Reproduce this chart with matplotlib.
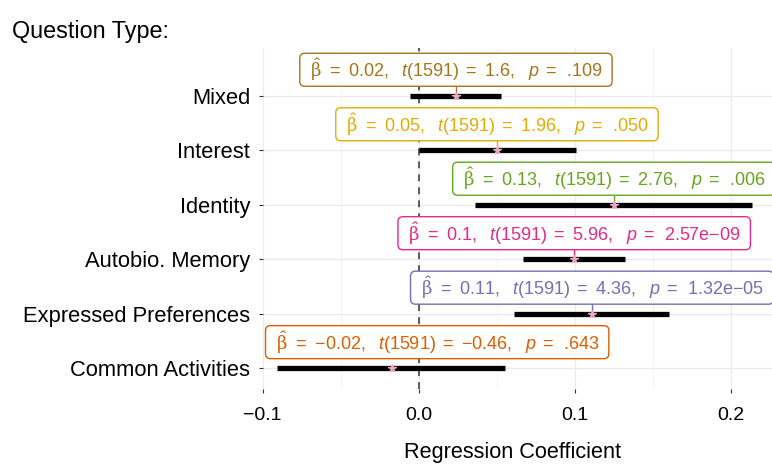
import matplotlib
matplotlib.use("Agg")
import matplotlib.pyplot as plt
from matplotlib import font_manager as fm
from matplotlib.patches import FancyBboxPatch
from matplotlib.transforms import IdentityTransform
import numpy as np

# ---------------- data ----------------
categories = ["Common Activities", "Expressed Preferences", "Autobio. Memory",
              "Identity", "Interest", "Mixed"]
estimates = [-0.0171, 0.1112, 0.0998, 0.1254, 0.0503, 0.0240]
ci_low = [-0.0904, 0.0613, 0.0667, 0.0363, 0.0000, -0.0053]
ci_high = [0.0556, 0.1607, 0.1323, 0.2139, 0.1009, 0.0530]
beta_text = ["−0.02", "0.11", "0.1", "0.13", "0.05", "0.02"]
t_text = ["−0.46", "4.36", "5.96", "2.76", "1.96", "1.6"]
p_text = [".643", "1.32e−05", "2.57e−09", ".006", ".050", ".109"]
df_resid = "1591"
label_colors = ["#D95F02", "#7570B3", "#E7298A", "#66A61E", "#E6AB02", "#A6761D"]
x_ticks = [-0.1, 0.0, 0.1, 0.2]
x_tick_labels = ["−0.1", "0.0", "0.1", "0.2"]

# ---------------- fonts ----------------
names = {f.name for f in fm.fontManager.ttflist}
if "Liberation Sans Narrow" in names:
    NARROW, NSCALE = "Liberation Sans Narrow", 1.0
else:
    NARROW, NSCALE = "Liberation Sans", 0.84
REG = "Liberation Sans"

plt.rcParams["mathtext.fontset"] = "custom"
plt.rcParams["mathtext.rm"] = REG
plt.rcParams["mathtext.it"] = REG + ":italic"
plt.rcParams["mathtext.sf"] = "DejaVu Serif"

W, H = 772, 465
fig = plt.figure(figsize=(W / 100, H / 100), dpi=100)
ax_left, ax_right, ax_top, ax_bottom = 262.5, 778.0, 48.0, 389.0
ax = fig.add_axes([ax_left / W, 1 - ax_bottom / H,
                   (ax_right - ax_left) / W, (ax_bottom - ax_top) / H])

y = np.arange(1, len(categories) + 1)
ax.set_xlim(-0.1, -0.1 + (ax_right - ax_left) / 1560.0)
ax.set_ylim(0.62, 6.88)

ax.set_xticks(x_ticks)
ax.set_xticklabels(x_tick_labels, fontfamily=REG, fontsize=14)
minor = [(a + b) / 2 for a, b in zip(x_ticks[:-1], x_ticks[1:])]
ax.set_xticks(minor, minor=True)
ax.set_yticks(y)
ax.set_yticklabels(categories, fontfamily=NARROW, fontsize=18.8 * NSCALE)
ax.grid(which="major", color="#ebebeb", lw=1.0, zorder=0)
ax.grid(which="minor", axis="x", color="#f2f2f2", lw=0.6, zorder=0)
ax.set_axisbelow(True)
ax.tick_params(which="minor", length=0)
ax.tick_params(which="major", length=3, width=0.8, color="#333333")
ax.tick_params(axis="y", pad=6)
ax.tick_params(axis="x", pad=10)
for s in ax.spines.values():
    s.set_visible(False)

ax.axvline(0, color="#333333", lw=1.1, ls=(0, (4.5, 4)), zorder=2)
ax.hlines(y, ci_low, ci_high, color="black", lw=3.8, zorder=3)
ax.plot(estimates, y, ls="none", marker="*", ms=5.5, color="#f5a3c4",
        mec="#f5a3c4", zorder=7)


def label_string(b, t, p):
    hs = lambda v: r"\hspace{" + str(v) + "}"
    return ("$" + r"\hat{\mathsf{\beta}}" + hs(0.62) + r"\text{=}" + hs(0.57) +
            r"\text{" + b + ",}" + hs(0.87) + "t" + r"\text{(" + df_resid + ")}" +
            hs(0.47) + r"\text{=}" + hs(0.57) + r"\text{" + t + ",}" + hs(0.92) +
            "p" + hs(0.47) + r"\text{=}" + hs(0.67) + r"\text{" + p + "}" + "$")


LABEL_DY = 0.48
PADX = 10.0
BOX_H = 33.0
texts = []
for yi, est, b, t, p, c in zip(y, estimates, beta_text, t_text, p_text, label_colors):
    txt = ax.text(est, yi + LABEL_DY, label_string(b, t, p), ha="center",
                  va="center", color=c, fontsize=13, zorder=9, clip_on=False)
    texts.append(txt)

fig.canvas.draw()
renderer = fig.canvas.get_renderer()
axbb = ax.get_window_extent(renderer)
inv = ax.transData.inverted()
for txt, yi, est, c in zip(texts, y, estimates, label_colors):
    tb = txt.get_window_extent(renderer)
    cx, cy = (tb.x0 + tb.x1) / 2, (tb.y0 + tb.y1) / 2
    bw = tb.width + 2 * PADX
    bx0 = cx - bw / 2
    dx = 0.0
    if bx0 < axbb.x0 + 3:
        dx = axbb.x0 + 3 - bx0
    elif bx0 + bw > axbb.x1 - 3:
        dx = axbb.x1 - 3 - (bx0 + bw)
    if dx != 0:
        xd, yd = ax.transData.transform((est, yi + LABEL_DY))
        nx, ny = inv.transform((xd + dx, yd))
        txt.set_position((nx, ny))
    box = FancyBboxPatch((bx0 + dx, cy - BOX_H / 2), bw, BOX_H,
                         boxstyle="round,pad=0,rounding_size=5",
                         fc="white", ec=c, lw=1.0, transform=IdentityTransform(),
                         zorder=8, clip_on=False)
    ax.add_artist(box)
    if abs(dx) < 20:
        xd, _ = ax.transData.transform((est, yi))
        _, ybot = inv.transform((xd, cy - BOX_H / 2))
        ax.plot([est, est], [yi, ybot], color=c, lw=1.0, zorder=6)

fig.text(12 / W, 1 - 38 / H, "Question Type:", fontfamily=NARROW,
         fontsize=20 * NSCALE, ha="left", va="baseline")
fig.text(513 / W, 1 - 458 / H, "Regression Coefficient", fontfamily=NARROW,
         fontsize=18.5 * NSCALE, ha="center", va="baseline")

fig.savefig("out.png", dpi=100)
